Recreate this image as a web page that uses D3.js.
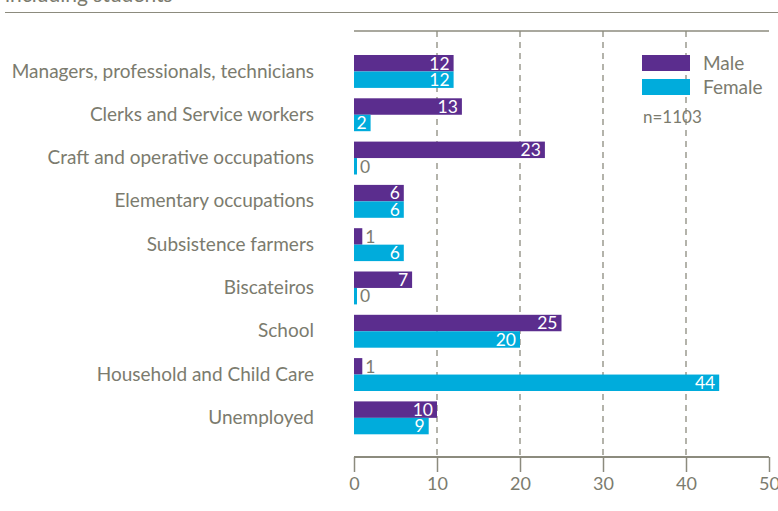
<!DOCTYPE html>
<html>
<head>
<meta charset="utf-8">
<script src="https://cdn.jsdelivr.net/npm/d3@7"></script>
<style>
  body { margin: 0; background: #fff; }
  svg { display: block; font-family: Lato, "Open Sans", sans-serif; }
</style>
</head>
<body>
<div id="chart"></div>
<script>
// ----- Data -----
const categories = [
  "Managers, professionals, technicians",
  "Clerks and Service workers",
  "Craft and operative occupations",
  "Elementary occupations",
  "Subsistence farmers",
  "Biscateiros",
  "School",
  "Household and Child Care",
  "Unemployed"
];
const maleValues   = [12, 13, 23, 6, 1, 7, 25, 1, 10];
const femaleValues = [12, 2, 0, 6, 6, 0, 20, 44, 9];
const seriesNames  = ["Male", "Female"];
const xTicks       = [0, 10, 20, 30, 40, 50];
const sampleNote   = "n=1103";

const colors = { Male: "#5b2d8e", Female: "#00acdc" };
const grey = "#7b7b6e";
const lineGrey = "#8c8b7e";

const W = 778, H = 511;

const svg = d3.select("#chart")
  .append("svg")
  .attr("width", W)
  .attr("height", H);

// ----- Header (cropped title + rule) -----
svg.append("text")
  .attr("x", 5)
  .attr("y", 2)
  .style("font-size", "21px")
  .style("fill", grey)
  .text("including students");

svg.append("line")
  .attr("x1", 5).attr("x2", W)
  .attr("y1", 12.5).attr("y2", 12.5)
  .attr("stroke", lineGrey)
  .attr("stroke-width", 1.2);

// ----- Scales -----
const x = d3.scaleLinear()
  .domain([0, 50])
  .range([354, 769]);

const y = d3.scaleBand()
  .domain(categories)
  .range([49.8, 439.5])
  .paddingInner(0.24)
  .paddingOuter(0.12);

const ySub = d3.scaleBand()
  .domain(seriesNames)
  .range([0, y.bandwidth()]);

const axisY = 457;
const topY = 31;

// ----- Top rule -----
svg.append("line")
  .attr("x1", x(0)).attr("x2", x(50))
  .attr("y1", topY).attr("y2", topY)
  .attr("stroke", lineGrey)
  .attr("stroke-width", 1.5);

// ----- Dashed grid -----
svg.append("g")
  .selectAll("line")
  .data(xTicks.filter(t => t > 0 && t < 50))
  .enter()
  .append("line")
  .attr("x1", d => x(d)).attr("x2", d => x(d))
  .attr("y1", topY).attr("y2", axisY)
  .attr("stroke", lineGrey)
  .attr("stroke-width", 1.3)
  .attr("stroke-dasharray", "6,5");

// ----- Bars -----
const rows = categories.map((c, i) => ({
  category: c,
  values: [
    { series: "Male", value: maleValues[i] },
    { series: "Female", value: femaleValues[i] }
  ]
}));

const groups = svg.append("g")
  .selectAll("g")
  .data(rows)
  .enter()
  .append("g")
  .attr("transform", d => `translate(0,${y(d.category)})`);

groups.selectAll("rect")
  .data(d => d.values)
  .enter()
  .append("rect")
  .attr("x", x(0))
  .attr("y", d => ySub(d.series))
  .attr("width", d => Math.max(x(d.value) - x(0), 3))
  .attr("height", ySub.bandwidth())
  .attr("fill", d => colors[d.series]);

groups.selectAll("text")
  .data(d => d.values)
  .enter()
  .append("text")
  .each(function (d) {
    const w = x(d.value) - x(0);
    const inside = w > 16;
    d3.select(this)
      .attr("x", inside ? x(d.value) - 4 : Math.max(x(d.value), x(0) + 3) + 3)
      .attr("text-anchor", inside ? "end" : "start")
      .style("fill", inside ? "#fff" : grey);
  })
  .attr("y", d => ySub(d.series) + ySub.bandwidth() / 2)
  .attr("dy", "0.36em")
  .style("font-size", "17.5px")
  .text(d => d.value);

// ----- Category labels -----
const yAxis = svg.append("g")
  .attr("transform", `translate(${x(0)},0)`)
  .call(d3.axisLeft(y).tickSize(0).tickPadding(40));
yAxis.select(".domain").remove();
yAxis.selectAll("text")
  .style("font-family", "Lato, 'Open Sans', sans-serif")
  .style("font-size", "19px")
  .style("fill", grey);

// ----- X axis -----
const xAxis = svg.append("g")
  .attr("transform", `translate(0,${axisY})`)
  .call(d3.axisBottom(x).tickValues(xTicks).tickSize(15).tickPadding(5));
xAxis.select(".domain")
  .attr("stroke", lineGrey)
  .attr("stroke-width", 2)
  .attr("d", `M${x(0)},0H${x(50)}`);
xAxis.selectAll(".tick line")
  .attr("stroke", lineGrey)
  .attr("stroke-width", 1.5);
xAxis.selectAll(".tick text")
  .style("font-family", "Lato, 'Open Sans', sans-serif")
  .style("font-size", "18px")
  .style("fill", grey);

// ----- Legend -----
const legend = svg.append("g")
  .attr("transform", "translate(642,55)");

seriesNames.forEach((name, i) => {
  legend.append("rect")
    .attr("x", 0)
    .attr("y", i * 24)
    .attr("width", 48)
    .attr("height", 16)
    .attr("fill", colors[name]);
  legend.append("text")
    .attr("x", 61)
    .attr("y", i * 24 + 8)
    .attr("dy", "0.36em")
    .style("font-size", "19px")
    .style("fill", grey)
    .text(name);
});

legend.append("text")
  .attr("x", 1)
  .attr("y", 62)
  .attr("dy", "0.36em")
  .style("font-size", "17px")
  .style("fill", grey)
  .text(sampleNote);
</script>
</body>
</html>
